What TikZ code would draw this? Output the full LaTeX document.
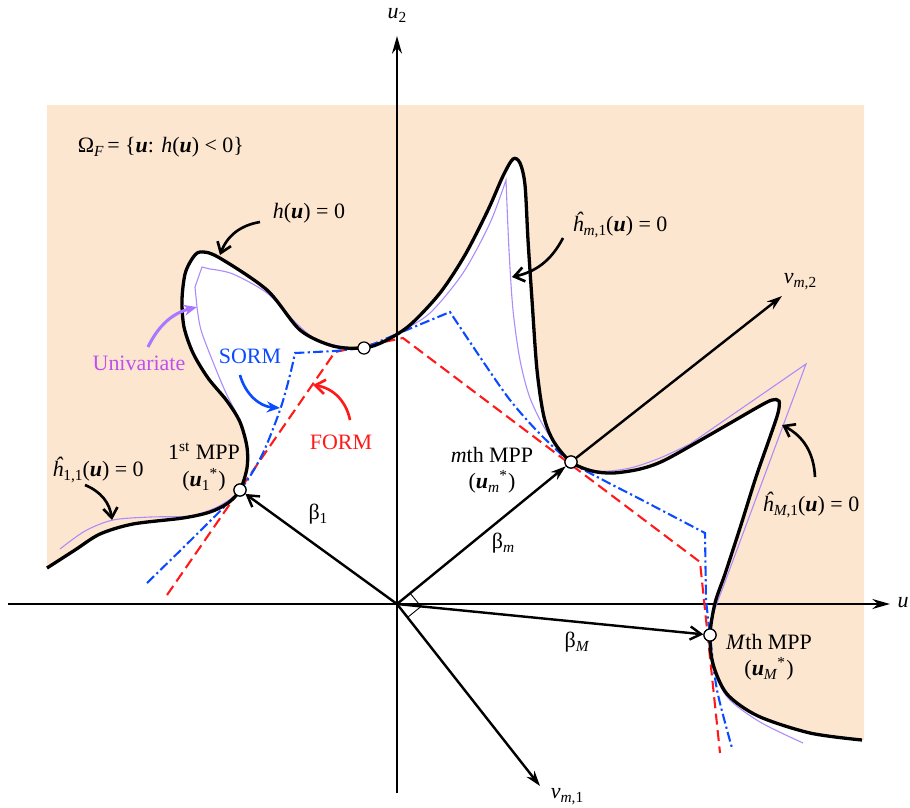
\documentclass[tikz,border=0pt]{standalone}
\usepackage{fontspec}
\setmainfont{Liberation Serif}
\usepackage{tikz}
\usetikzlibrary{positioning,arrows.meta}
\usepackage{xcolor}

\definecolor{peach}{RGB}{253,230,208}
\definecolor{formred}{RGB}{255,25,25}
\definecolor{sormblue}{RGB}{10,75,255}
\definecolor{univline}{RGB}{172,140,250}
\definecolor{univarrow}{RGB}{170,120,255}
\definecolor{univtext}{RGB}{190,80,240}

\newcommand{\bfu}{\textbf{\textit{u}}}
\newcommand{\lowsub}[1]{\raisebox{-0.4ex}{\scriptsize #1}}
\newcommand{\hhat}{\textit{\^{h}}}

\begin{document}
\begin{tikzpicture}[
  x=0.016cm, y=-0.016cm,
  font=\normalsize,
  >=Stealth,
  axis/.style={line width=1.25pt, -{Stealth[length=8pt,width=4.5pt]}},
  limit/.style={line width=1.5pt},
  univ/.style={univline, line width=0.5pt},
  formline/.style={formred, line width=0.95pt, dash pattern=on 5pt off 2.5pt},
  sormline/.style={sormblue, line width=0.95pt, dash pattern=on 4.5pt off 1.5pt on 1pt off 1.5pt},
  mpp/.style={circle, draw, fill=white, line width=0.55pt, inner sep=0pt, minimum size=5.5pt},
  beta/.style={line width=1.1pt, -{Straight Barb[length=5pt,width=6pt]}},
  vec/.style={line width=1.1pt, -{Stealth[length=7pt,width=4.5pt]}},
  lblarr/.style={line width=1.2pt, -{Straight Barb[length=4.5pt,width=6.5pt]}},
]

\useasboundingbox (0,0) rectangle (910,807);

% Failure domain
\fill[peach] (47,105) -- (47,568) -- plot[smooth, tension=0.5] coordinates {
  (47,568) (75,550) (100,534) (133,524) (183,518) (210,512) (228,503) (240,490)
  (247,468) (247,447) (240,422) (227,401) (208,378) (193,353) (184,327) (182,300)
  (185,274) (192,259) (200,252) (218,257) (267,290) (300,330) (333,346) (364,348)
  (385,341) (410,325) (440,293) (465,255) (488,210) (503,176) (513,159) (520,163)
  (525,185) (528,240) (532,300) (537,370) (544,417) (554,442) (571,462) (592,471)
  (613,473) (640,469) (665,460) (713,433) (758,407) (772,400) (779,401) (778,413)
  (770,437) (756,477) (740,528) (725,574) (715,603) (710,635) (713,664) (727,694)
  (758,716) (810,733) (862,740)}
  -- (864,740) -- (864,105) -- cycle;

% Axes
\coordinate (uL) at (8,604);
\coordinate (uR) at (890,604);
\coordinate (vB) at (397,793);
\coordinate (vT) at (397,36);
\draw[axis] (uL) -- (uR);
\draw[axis] (vB) -- (vT);
\node (ulab) at (903,603) {\textit{u}};
\node (u2lab) at (397,15) {\textit{u}\lowsub{2}};

% Univariate approximations
\draw[univ] plot[smooth, tension=0.5] coordinates {
  (60,549) (85,531) (113,520) (150,517) (190,516) (215,508) (232,498) (240,490)
  (247,468) (246,445) (240,421) (226,393) (213,362) (201,330) (197,307)}
  -- (195,287) -- (202,267) -- (210,269)
  -- plot[smooth, tension=0.5] coordinates {
  (210,269) (233,274) (267,293) (293,320) (317,340) (350,348) (364,348) (385,341)
  (400,332) (430,313) (463,273) (490,223) (506,180)}
  -- plot[smooth, tension=0.5] coordinates {
  (506,180) (509,250) (513,310) (520,360) (530,398) (547,432) (571,462) (600,471)
  (630,468) (660,458) (690,444)}
  -- (806,364) -- (722,590)
  -- plot[smooth, tension=0.5] coordinates {
  (722,590) (714,612) (710,635) (713,668) (728,698) (760,722) (803,743)};

% FORM
\draw[formline] (167,595) -- (335,352) -- (403,338) -- (700,562) -- (720,753);

% SORM
\draw[sormline] plot[smooth, tension=0.5] coordinates {
  (147,583) (195,536) (240,490) (262,455) (280,410) (290,375) (295,353)}
  -- (335,351) -- (364,348) -- (397,334) -- (450,312)
  -- plot[smooth, tension=0.5] coordinates {
  (450,312) (480,357) (510,400) (540,434) (571,462) (605,481) (640,499) (705,533)}
  -- (706,600)
  -- plot[smooth, tension=0.5] coordinates {(706,600) (710,635) (717,690) (732,748)};

% Limit-state surface h(u) = 0
\draw[limit] plot[smooth, tension=0.5] coordinates {
  (47,568) (75,550) (100,534) (133,524) (183,518) (210,512) (228,503) (240,490)
  (247,468) (247,447) (240,422) (227,401) (208,378) (193,353) (184,327) (182,300)
  (185,274) (192,259) (200,252) (218,257) (267,290) (300,330) (333,346) (364,348)
  (385,341) (410,325) (440,293) (465,255) (488,210) (503,176) (513,159) (520,163)
  (525,185) (528,240) (532,300) (537,370) (544,417) (554,442) (571,462) (592,471)
  (613,473) (640,469) (665,460) (713,433) (758,407) (772,400) (779,401) (778,413)
  (770,437) (756,477) (740,528) (725,574) (715,603) (710,635) (713,664) (727,694)
  (758,716) (810,733) (862,740)};

% MPPs
\coordinate (O) at (397,604);
\node[mpp] (mpp1) at (240,490) {};
\node[mpp] (mpp0) at (364,348) {};
\node[mpp] (mppm) at (571,462) {};
\node[mpp] (mppM) at (710,635) {};

% Reliability indices and rotated axes
\coordinate (vm2) at (782,296);
\coordinate (vm1) at (540,786);
\draw[beta] (O) -- (mpp1);
\draw[vec] (O) -- (mppm);
\draw[beta] (O) -- (mppM);
\draw[vec] (mppm) -- (vm2);
\draw[vec] (O) -- (vm1);
\draw[line width=0.4pt] (410.2,593.3) -- (421,606.5) -- (407.8,617.2);

% redraw MPP markers on top
\node[mpp] at (mpp1) {};
\node[mpp] at (mppm) {};
\node[mpp] at (mppM) {};

% Labels
\node[anchor=west] (omega) at (70,147) {Ω\lowsub{\textit{F}}\,= \{\bfu: \textit{h}(\bfu) < 0\}};
\node (hlab) at (309,213) {\textit{h}(\bfu) = 0};
\node[univtext] (univlab) at (139,363) {Univariate};
\node[sormblue] (sormlab) at (250,356) {SORM};
\node[formred] (formlab) at (341,442) {FORM};
\node[align=center] (mpp1lab) at (204,467) {1\textsuperscript{st} MPP\\(\bfu\lowsub{1}\textsuperscript{*})};
\node (h11lab) at (98,470) {\hhat\lowsub{1,1}(\bfu) = 0};
\node (b1lab) at (318,514) {β\lowsub{1}};
\node[align=center] (mppmlab) at (492,470) {\textit{m}th MPP\\(\bfu\lowsub{\textit{m}}\textsuperscript{*})};
\node (bmlab) at (503,543) {β\lowsub{\textit{m}}};
\node (hm1lab) at (620,225) {\hhat\lowsub{\textit{m},1}(\bfu) = 0};
\node (vm2lab) at (800,282) {\textit{v}\lowsub{\textit{m},2}};
\node (hM1lab) at (811,505) {\hhat\lowsub{\textit{M},1}(\bfu) = 0};
\node (bMlab) at (577,642) {β\lowsub{\textit{M}}};
\node[align=center] (mppMlab) at (769,657) {\textit{M}th MPP\\(\bfu\lowsub{\textit{M}}\textsuperscript{*})};
\node (vm1lab) at (567,797) {\textit{v}\lowsub{\textit{m},1}};

% Label arrows
\coordinate (hA) at (260,222);   \coordinate (hB) at (220,255);
\coordinate (unA) at (148,347);  \coordinate (unB) at (197,307);
\coordinate (soA) at (240,375);  \coordinate (soB) at (280,408);
\coordinate (foA) at (350,420);  \coordinate (foB) at (313,385);
\coordinate (h11A) at (85,485);  \coordinate (h11B) at (112,520);
\coordinate (hm1A) at (563,238); \coordinate (hm1B) at (512,277);
\coordinate (hM1A) at (815,477); \coordinate (hM1B) at (782,425);
\draw[lblarr] (hA) to[bend right=30] (hB);
\draw[lblarr, univarrow, line width=1.4pt, -{Stealth[length=6pt,width=5pt]}] (unA) to[bend left=25] (unB);
\draw[lblarr, sormblue, line width=1.2pt, -{Stealth[length=6pt,width=5pt]}] (soA) to[bend right=35] (soB);
\draw[lblarr, formred, line width=1.2pt] (foA) to[bend right=35] (foB);
\draw[lblarr] (h11A) to[bend left=30] (h11B);
\draw[lblarr] (hm1A) to[bend left=25] (hm1B);
\draw[lblarr] (hM1A) to[bend right=30] (hM1B);

\end{tikzpicture}
\end{document}
